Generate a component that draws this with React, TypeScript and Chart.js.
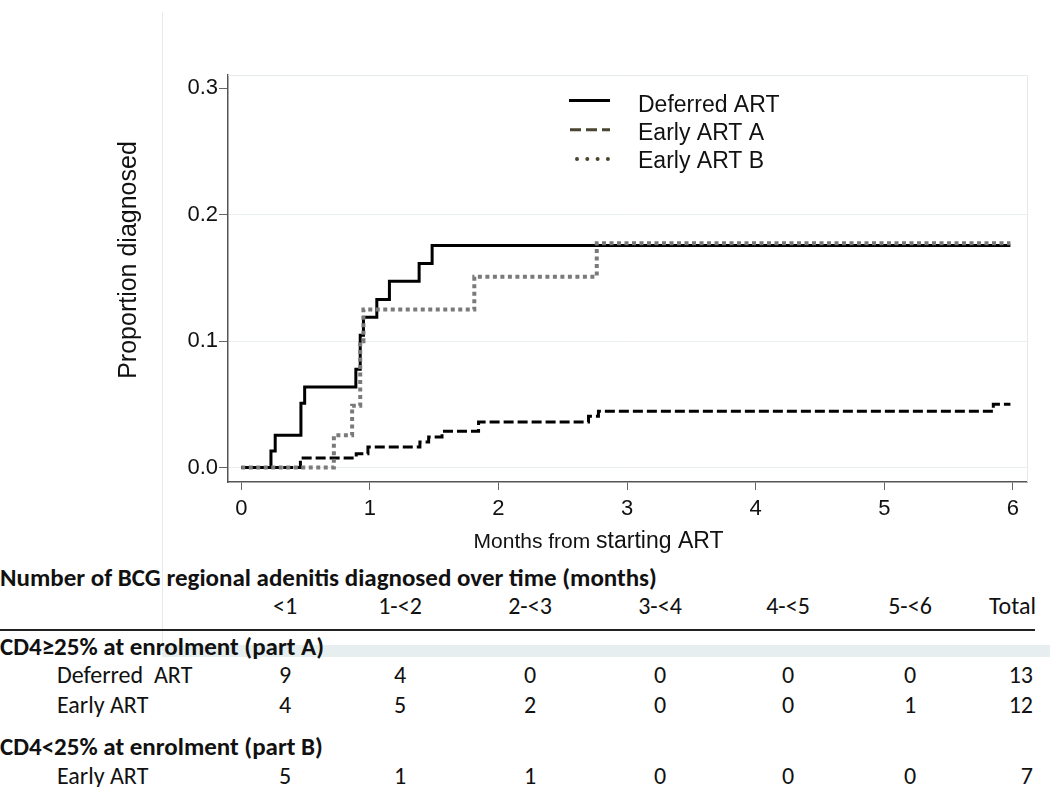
import React, { useEffect, useRef } from "react";
import { Chart, registerables } from "chart.js";

Chart.register(...registerables);

// ---------- data ----------
const seriesLabels = ["Deferred ART", "Early ART A", "Early ART B"];

const deferredTimes = [0, 0.231, 0.264, 0.464, 0.493, 0.891, 0.925, 0.95, 1.054, 1.152, 1.383, 1.484, 5.98];
const deferredValues = [0, 0.0131, 0.0256, 0.051, 0.0638, 0.0778, 0.1047, 0.119, 0.133, 0.1475, 0.1615, 0.1758, 0.1758];

const earlyATimes = [0, 0.46, 0.894, 0.985, 1.389, 1.457, 1.561, 1.845, 2.7, 2.777, 5.847, 5.98];
const earlyAValues = [0, 0.0076, 0.011, 0.0162, 0.0203, 0.0242, 0.0287, 0.0361, 0.0406, 0.0446, 0.0501, 0.0501];

const earlyBTimes = [0, 0.72, 0.862, 0.925, 0.95, 1.812, 2.764, 5.98];
const earlyBValues = [0, 0.0256, 0.049, 0.1, 0.125, 0.151, 0.1774, 0.1774];

const xTicks = [0, 1, 2, 3, 4, 5, 6];
const yTicks = [0, 0.1, 0.2, 0.3];

const xTitleSmall = "Months from ";
const xTitleLarge = "starting ART";
const yTitle = "Proportion diagnosed";

const tableTitle = "Number of BCG regional adenitis diagnosed over time (months)";
const periodLabels = ["<1", "1-<2", "2-<3", "3-<4", "4-<5", "5-<6", "Total"];
const partALabel = "CD4≥25% at enrolment (part A)";
const partBLabel = "CD4<25% at enrolment (part B)";
const rowDeferred = "Deferred  ART";
const rowEarly = "Early ART";
const partADeferredCounts = [9, 4, 0, 0, 0, 0, 13];
const partAEarlyCounts = [4, 5, 2, 0, 0, 1, 12];
const partBEarlyCounts = [5, 1, 1, 0, 0, 0, 7];

// ---------- layout constants ----------
const CANVAS_W = 1050;
const CANVAS_H = 560;
const colX = [285, 400, 530, 660, 788, 910, 1036];

const pts = (xs: number[], ys: number[]) => xs.map((x, i) => ({ x, y: ys[i] }));

const framePlugin = {
  id: "frameBorder",
  beforeDatasetsDraw(chart: any) {
    const { ctx, chartArea } = chart;
    ctx.save();
    ctx.strokeStyle = "#e4eaec";
    ctx.lineWidth = 1;
    ctx.beginPath();
    ctx.moveTo(chartArea.left, chartArea.top + 0.5);
    ctx.lineTo(chartArea.right + 0.5, chartArea.top + 0.5);
    ctx.lineTo(chartArea.right + 0.5, chartArea.bottom);
    ctx.stroke();
    ctx.restore();
  },
};

const legendPlugin = {
  id: "customLegend",
  afterDraw(chart: any) {
    const { ctx } = chart;
    const styles = [
      { color: "#000", width: 3, dash: [] as number[], cap: "butt", start: 569 },
      { color: "#4a4532", width: 3, dash: [11, 5], cap: "butt", start: 570 },
      { color: "#4a4532", width: 4, dash: [0, 10.3], cap: "round", start: 577 },
    ];
    chart.data.datasets.forEach((ds: any, i: number) => {
      const st = styles[i];
      const ly = 100.5 + i * 29.3;
      ctx.save();
      ctx.strokeStyle = st.color;
      ctx.lineWidth = st.width;
      ctx.lineCap = st.cap;
      ctx.setLineDash(st.dash);
      ctx.beginPath();
      ctx.moveTo(st.start, ly);
      ctx.lineTo(610, ly);
      ctx.stroke();
      ctx.setLineDash([]);
      ctx.fillStyle = "#111";
      ctx.font = '23px "Liberation Sans", Arial, sans-serif';
      ctx.textBaseline = "alphabetic";
      ctx.textAlign = "left";
      ctx.fillText(ds.label, 638, 111.5 + i * 28.3);
      ctx.restore();
    });
  },
};

const titlesPlugin = {
  id: "axisTitles",
  afterDraw(chart: any) {
    const { ctx } = chart;
    ctx.save();
    ctx.fillStyle = "#111";
    ctx.translate(129, 260);
    ctx.rotate(-Math.PI / 2);
    ctx.font = '25px "Liberation Sans", Arial, sans-serif';
    ctx.textAlign = "center";
    ctx.textBaseline = "middle";
    ctx.fillText(yTitle, 0, 0);
    ctx.restore();

    ctx.save();
    ctx.fillStyle = "#111";
    ctx.textBaseline = "alphabetic";
    ctx.textAlign = "left";
    const f1 = '21px "Liberation Sans", Arial, sans-serif';
    const f2 = '23px "Liberation Sans", Arial, sans-serif';
    ctx.font = f1;
    const w1 = ctx.measureText(xTitleSmall).width;
    ctx.font = f2;
    const w2 = ctx.measureText(xTitleLarge).width;
    const start = 598.5 - (w1 + w2) / 2;
    const base = 548;
    ctx.font = f1;
    ctx.fillText(xTitleSmall, start, base);
    ctx.font = f2;
    ctx.fillText(xTitleLarge, start + w1, base);
    ctx.restore();
  },
};

function ChartView() {
  const ref = useRef<HTMLCanvasElement | null>(null);
  useEffect(() => {
    if (!ref.current) return;
    const tickFont = { family: '"Liberation Sans", Arial, sans-serif', size: 22 };
    const chart = new Chart(ref.current, {
      type: "line",
      data: {
        datasets: [
          {
            label: seriesLabels[0],
            data: pts(deferredTimes, deferredValues),
            borderColor: "#000",
            borderWidth: 3,
            stepped: true,
            pointRadius: 0,
            fill: false,
            order: 2,
          },
          {
            label: seriesLabels[1],
            data: pts(earlyATimes, earlyAValues),
            borderColor: "#000",
            borderWidth: 3,
            borderDash: [10, 4],
            stepped: true,
            pointRadius: 0,
            fill: false,
            order: 1,
          },
          {
            label: seriesLabels[2],
            data: pts(earlyBTimes, earlyBValues),
            borderColor: "#7a7a7a",
            borderWidth: 4,
            borderDash: [4, 3.5],
            stepped: true,
            pointRadius: 0,
            fill: false,
            order: 0,
          },
        ],
      },
      options: {
        responsive: false,
        animation: false,
        layout: { padding: { top: 75, right: 23, left: 0, bottom: 0 } },
        plugins: { legend: { display: false }, tooltip: { enabled: false } },
        scales: {
          x: {
            type: "linear",
            min: -0.103,
            max: 6.109,
            afterFit: (s: any) => {
              s.height = CANVAS_H - 482;
            },
            afterBuildTicks: (s: any) => {
              s.ticks = xTicks.map((v) => ({ value: v }));
            },
            ticks: {
              font: tickFont,
              color: "#111",
              padding: 6,
              autoSkip: false,
              maxRotation: 0,
              callback: (v: any) => String(v),
            },
            grid: {
              display: true,
              drawOnChartArea: false,
              tickLength: 8,
              tickColor: "#666",
              tickWidth: 1,
            },
            border: { color: "#555", width: 1.5 },
          },
          y: {
            type: "linear",
            min: -0.0114,
            max: 0.3106,
            afterFit: (s: any) => {
              s.width = 228;
            },
            afterBuildTicks: (s: any) => {
              s.ticks = yTicks.map((v) => ({ value: v }));
            },
            ticks: {
              font: tickFont,
              color: "#111",
              padding: 1,
              callback: (v: any) => Number(v).toFixed(1),
            },
            grid: {
              display: true,
              drawOnChartArea: true,
              color: (c: any) =>
                c.tick && Math.abs(c.tick.value - 0.3) < 1e-6 ? "rgba(0,0,0,0)" : "#e9eef0",
              lineWidth: 1,
              tickLength: 9,
              tickColor: "#666",
              tickWidth: 1,
            },
            border: { color: "#555", width: 1.5 },
          },
        },
      },
      plugins: [framePlugin, legendPlugin, titlesPlugin],
    } as any);
    return () => chart.destroy();
  }, []);
  return (
    <canvas
      ref={ref}
      width={CANVAS_W}
      height={CANVAS_H}
      style={{ position: "absolute", left: 0, top: 0, width: CANVAS_W, height: CANVAS_H, display: "block" }}
    />
  );
}

const tableFont = 'Carlito, Lato, "Noto Sans", sans-serif';

function Cell(props: { x: number; y: number; align?: "left" | "center" | "right"; bold?: boolean; size?: number; children: any }) {
  const { x, y, align = "center", bold = false, size = 24, children } = props;
  const tx = align === "center" ? "-50%" : align === "right" ? "-100%" : "0";
  return (
    <div
      style={{
        position: "absolute",
        left: x,
        top: y,
        transform: `translate(${tx}, -50%)`,
        fontFamily: tableFont,
        fontSize: size,
        fontWeight: bold ? 700 : 400,
        lineHeight: 1,
        whiteSpace: "pre",
        color: "#111",
      }}
    >
      {children}
    </div>
  );
}

function Row(props: { label: string; y: number; counts: number[] }) {
  return (
    <>
      <Cell x={57} y={props.y} align="left">
        {props.label}
      </Cell>
      {props.counts.map((c, i) => (
        <Cell key={i} x={i === 6 ? colX[i] - 3 : colX[i]} y={props.y} align={i === 6 ? "right" : "center"}>
          {String(c)}
        </Cell>
      ))}
    </>
  );
}

export default function App() {
  return (
    <div style={{ position: "absolute", left: 0, top: 0, width: 1050, height: 787, background: "#fff", overflow: "hidden" }}>
      <div style={{ position: "absolute", left: 162, top: 12, width: 1, height: 633, background: "#e2ebed" }} />
      <div style={{ position: "absolute", left: 162, top: 645, width: 888, height: 12, background: "#e6eef0" }} />
      <ChartView />
      <Cell x={0} y={577} align="left" bold size={25}>
        {tableTitle}
      </Cell>
      {periodLabels.map((p, i) => (
        <Cell key={p} x={colX[i]} y={606} align={i === 6 ? "right" : "center"}>
          {p}
        </Cell>
      ))}
      <div style={{ position: "absolute", left: 0, top: 629, width: 1035, height: 2, background: "#222" }} />
      <Cell x={0} y={646} align="left" bold size={25}>
        {partALabel}
      </Cell>
      <Row label={rowDeferred} y={675} counts={partADeferredCounts} />
      <Row label={rowEarly} y={705} counts={partAEarlyCounts} />
      <Cell x={0} y={746} align="left" bold size={25}>
        {partBLabel}
      </Cell>
      <Row label={rowEarly} y={776} counts={partBEarlyCounts} />
    </div>
  );
}
